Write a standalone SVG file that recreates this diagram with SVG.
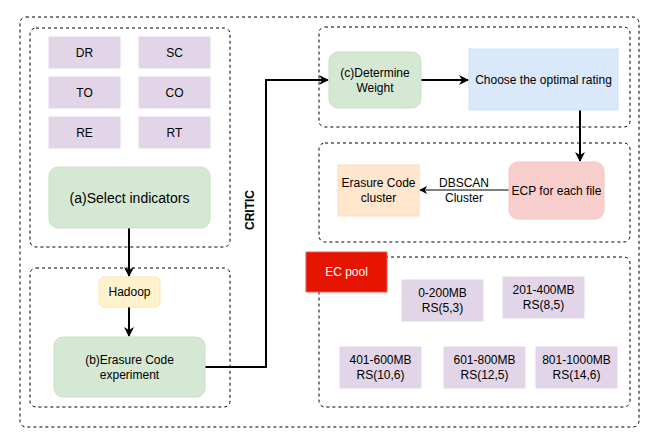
<svg xmlns="http://www.w3.org/2000/svg" width="655" height="448" viewBox="0 0 655 448">
<style>
text{font-family:"Liberation Sans",Arial,sans-serif;font-size:12px;fill:#000;text-anchor:middle;dominant-baseline:central}
.cont{fill:none;stroke:#000;stroke-width:1;stroke-dasharray:3 3}
.ind{fill:#e1d5e7;stroke:#e1d5e7}
.grn{fill:#d5e8d4;stroke:#c8dfc6}
.thick{fill:none;stroke:#000;stroke-width:2}
.thin{fill:none;stroke:#000;stroke-width:1}
</style>
<defs>
<marker id="ah" viewBox="0 0 10 10" refX="9" refY="5" markerWidth="5" markerHeight="5" orient="auto" markerUnits="strokeWidth"><path d="M0,0 L10,5 L0,10 L3,5 Z" fill="#000"/></marker>
<marker id="ahs" viewBox="0 0 10 10" refX="9" refY="5" markerWidth="8" markerHeight="8" orient="auto" markerUnits="strokeWidth"><path d="M0,0 L10,5 L0,10 L3,5 Z" fill="#000"/></marker>
</defs>
<rect width="655" height="448" fill="#fff"/>
<g id="containers">
<rect class="cont" x="20" y="17" width="619" height="410" rx="6"/>
<rect class="cont" x="30" y="28" width="200" height="219" rx="6"/>
<rect class="cont" x="30" y="268" width="200" height="139" rx="6"/>
<rect class="cont" x="319" y="27" width="311" height="100" rx="6"/>
<rect class="cont" x="319" y="143" width="311" height="99" rx="6"/>
<rect class="cont" x="319" y="257" width="311" height="150" rx="6"/>
</g>
<g id="connectors">
<line class="thick" x1="129" y1="228" x2="129" y2="276" marker-end="url(#ah)"/>
<line class="thick" x1="129" y1="307" x2="129" y2="336" marker-end="url(#ah)"/>
<polyline class="thick" points="205,367 266,367 266,80 328,80" marker-end="url(#ah)"/>
<line class="thick" x1="421" y1="80" x2="468" y2="80" marker-end="url(#ah)"/>
<line class="thick" x1="580" y1="110" x2="580" y2="161" marker-end="url(#ah)"/>
<line class="thin" x1="509" y1="190" x2="420" y2="190" marker-end="url(#ahs)"/>
<text x="464" y="183">DBSCAN</text>
<text x="464" y="198">Cluster</text>
</g>
<g id="critic"><text x="250" y="210" transform="rotate(-90 250 210)" font-weight="bold">CRITIC</text></g>
<g id="dr"><rect class="ind" x="49" y="37" width="71" height="31"/><text x="84.5" y="52.5">DR</text></g>
<g id="sc"><rect class="ind" x="139" y="37" width="71" height="31"/><text x="174.5" y="52.5">SC</text></g>
<g id="to"><rect class="ind" x="49" y="77" width="71" height="31"/><text x="84.5" y="92.5">TO</text></g>
<g id="co"><rect class="ind" x="139" y="77" width="71" height="31"/><text x="174.5" y="92.5">CO</text></g>
<g id="re"><rect class="ind" x="49" y="117" width="71" height="31"/><text x="84.5" y="132.5">RE</text></g>
<g id="rt"><rect class="ind" x="139" y="117" width="71" height="31"/><text x="174.5" y="132.5">RT</text></g>
<g id="select"><rect class="grn" x="49" y="167" width="161" height="61" rx="9"/><text x="129.5" y="197.5" style="font-size:14px">(a)Select indicators</text></g>
<g id="hadoop"><rect x="99" y="277" width="61" height="30" rx="5" fill="#fff2cc" stroke="#f5e6b8"/><text x="129.5" y="292">Hadoop</text></g>
<g id="ecexp"><rect class="grn" x="54" y="337" width="151" height="60" rx="9"/><text x="129.5" y="359.5">(b)Erasure Code</text><text x="129.5" y="374.5">experiment</text></g>
<g id="weight"><rect class="grn" x="329" y="52" width="92" height="56" rx="9"/><text x="375" y="72.5">(c)Determine</text><text x="375" y="87.5">Weight</text></g>
<g id="rating"><rect x="469" y="49" width="149" height="61" fill="#dae8fc" stroke="#cfdff5"/><text x="543.5" y="79.5">Choose the optimal rating</text></g>
<g id="ecp"><rect x="509" y="162" width="95" height="57" rx="9" fill="#f8cecc" stroke="#f2c4c2"/><text x="556.5" y="190.5">ECP for each file</text></g>
<g id="cluster"><rect x="338" y="165" width="81" height="51" fill="#ffe6cc" stroke="#f7dcc0"/><text x="378.5" y="183">Erasure Code</text><text x="378.5" y="198">cluster</text></g>
<g id="ecpool"><rect x="306" y="252" width="81" height="40" fill="#e51400" stroke="#f05a50"/><text x="346.5" y="272" style="fill:#fff">EC pool</text></g>
<g id="r1"><rect class="ind" x="402" y="280" width="81" height="41"/><text x="442.5" y="293">0-200MB</text><text x="442.5" y="308">RS(5,3)</text></g>
<g id="r2"><rect class="ind" x="503" y="277" width="81" height="41"/><text x="543.5" y="290">201-400MB</text><text x="543.5" y="305">RS(8,5)</text></g>
<g id="r3"><rect class="ind" x="340" y="347" width="81" height="41"/><text x="380.5" y="360">401-600MB</text><text x="380.5" y="375">RS(10,6)</text></g>
<g id="r4"><rect class="ind" x="444" y="347" width="81" height="41"/><text x="484.5" y="360">601-800MB</text><text x="484.5" y="375">RS(12,5)</text></g>
<g id="r5"><rect class="ind" x="536" y="347" width="81" height="41"/><text x="576.5" y="360">801-1000MB</text><text x="576.5" y="375">RS(14,6)</text></g>
</svg>
